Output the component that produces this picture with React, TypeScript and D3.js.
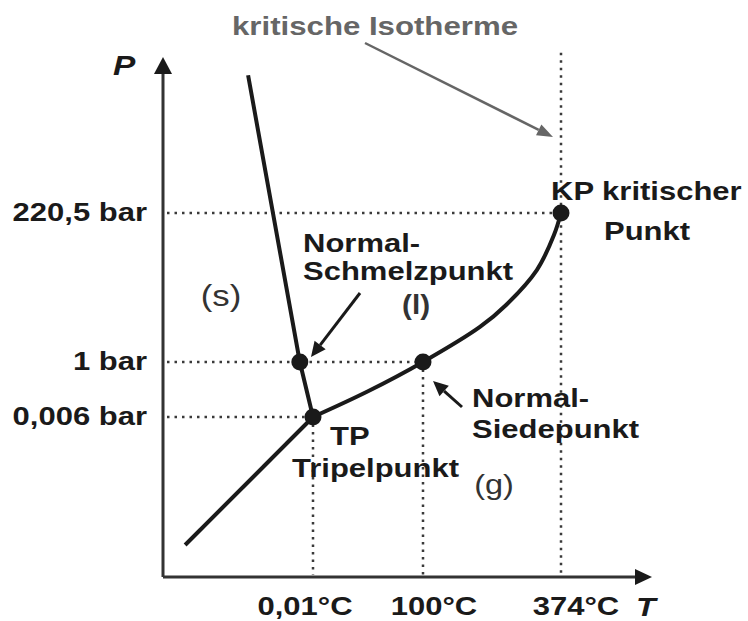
import React from "react";
import * as d3 from "d3";

// schematic phase diagram of water (axes are not to scale)
const tempTicks = [0.01, 100, 374];
const tempLabels = ["0,01°C", "100°C", "374°C"];
const tempLabelShift = [-8, 11, 15];
const pressTicks = [0.006, 1, 220.5];
const pressLabels = ["0,006 bar", "1 bar", "220,5 bar"];
const pressGuideEnd = [0.01, 100, 374]; // temperature where each dotted pressure line stops

const sublimation = [
  { t: -34.1, p: 0.0012 },
  { t: 0.01, p: 0.006 },
];
const melting = [
  { t: 0.01, p: 0.006 },
  { t: -3.5, p: 1 },
  { t: -17.3, p: 379 },
];
const vaporization = [
  { t: 0.01, p: 0.006 },
  { t: 50, p: 0.47 },
  { t: 100, p: 1 },
  { t: 213, p: 52.6 },
  { t: 265, p: 85 },
  { t: 326, p: 136.5 },
  { t: 360, p: 188 },
  { t: 374, p: 220.5 },
];
const specialPoints = [
  { t: 0.01, p: 0.006 },
  { t: -3.5, p: 1 },
  { t: 100, p: 1 },
  { t: 374, p: 220.5 },
];

const W = 748;
const H = 621;
const SX = 1.24; // the lettering in the original is drawn wide
const FONT = "'Liberation Sans', Arial, Helvetica, sans-serif";
const INK = "#1a1a1a";

const x = d3.scaleLinear().domain([-40, 0.01, 100, 374, 500]).range([163, 313, 423, 561, 652]);
const y = d3.scaleLinear().domain([0, 0.006, 1, 220.5, 400]).range([577, 417, 362, 213, 57]);

function Label({ x, y, children, anchor = "start", size = 25, weight = "bold", fill = INK, italic = false, sx = SX }: any) {
  return (
    <text
      transform={`translate(${x},${y}) scale(${sx},1)`}
      textAnchor={anchor}
      fontFamily={FONT}
      fontSize={size}
      fontWeight={weight}
      fontStyle={italic ? "italic" : "normal"}
      fill={fill}
    >
      {children}
    </text>
  );
}

function Arrow({ x1, y1, x2, y2, color = INK, width = 3, head = 15, headW = 7 }: any) {
  const a = Math.atan2(y2 - y1, x2 - x1);
  const bx = x2 - head * Math.cos(a);
  const by = y2 - head * Math.sin(a);
  const px = -Math.sin(a) * headW;
  const py = Math.cos(a) * headW;
  return (
    <g>
      <line x1={x1} y1={y1} x2={bx} y2={by} stroke={color} strokeWidth={width} />
      <polygon points={`${x2},${y2} ${bx + px},${by + py} ${bx - px},${by - py}`} fill={color} />
    </g>
  );
}

export default function App() {
  const line = d3.line<any>().x((d) => x(d.t)).y((d) => y(d.p));
  const smooth = d3.line<any>().x((d) => x(d.t)).y((d) => y(d.p)).curve(d3.curveCatmullRom.alpha(0.5));
  const x0 = x(-40);
  const y0 = y(0);
  const dotted = { stroke: "#3a3a3a", strokeWidth: 2.5, strokeDasharray: "2.5 5", fill: "none" };

  return (
    <svg width={W} height={H} style={{ position: "absolute", left: 0, top: 0, background: "#fff" }}>
      {/* guide lines */}
      {pressTicks.map((p, i) => (
        <line key={"h" + i} x1={x0 + 4} x2={x(pressGuideEnd[i])} y1={y(p)} y2={y(p)} style={dotted} />
      ))}
      {tempTicks.map((t, i) => (
        <line key={"v" + i} x1={x(t)} x2={x(t)} y1={i === 2 ? y(405) : y(pressTicks[i])} y2={y0 - 2} style={dotted} />
      ))}

      {/* axes */}
      <line x1={x0} y1={y0} x2={x0} y2={70} stroke="#333" strokeWidth={3} />
      <polygon points={`${x0},${57} ${x0 - 9},${74} ${x0 + 9},${74}`} fill={INK} />
      <line x1={x0} y1={y0} x2={638} y2={y0} stroke="#333" strokeWidth={3} />
      <polygon points={`${652},${y0} ${635},${y0 - 8} ${635},${y0 + 8}`} fill={INK} />

      {/* phase boundaries */}
      <path d={line(sublimation) || ""} stroke={INK} strokeWidth={4} fill="none" />
      <path d={line(melting) || ""} stroke={INK} strokeWidth={4} fill="none" />
      <path d={smooth(vaporization) || ""} stroke={INK} strokeWidth={4} fill="none" />
      {specialPoints.map((d, i) => (
        <circle key={"c" + i} cx={x(d.t)} cy={y(d.p)} r={8.5} fill={INK} />
      ))}

      {/* axis labels */}
      <Label x={113} y={75} size={27} italic>P</Label>
      <Label x={636} y={616} size={26} italic>T</Label>
      {pressTicks.map((p, i) => (
        <Label key={"pl" + i} x={147} y={y(p) + 8} anchor="end">{pressLabels[i]}</Label>
      ))}
      {tempTicks.map((t, i) => (
        <Label key={"tl" + i} x={x(t) + tempLabelShift[i]} y={615} anchor="middle">{tempLabels[i]}</Label>
      ))}

      {/* annotations */}
      <Label x={232} y={35} fill="#666" size={26} sx={1.2}>kritische Isotherme</Label>
      <Arrow x1={365} y1={43} x2={553} y2={137} color="#666" width={2.5} head={16} headW={6} />

      <Label x={551} y={200}>KP kritischer</Label>
      <Label x={604} y={240}>Punkt</Label>

      <Label x={303} y={252}>Normal-</Label>
      <Label x={303} y={280}>Schmelzpunkt</Label>
      <Arrow x1={360} y1={293} x2={311} y2={357} />

      <Label x={472} y={407}>Normal-</Label>
      <Label x={472} y={438}>Siedepunkt</Label>
      <Arrow x1={462} y1={407} x2={433} y2={381} />

      <Label x={330} y={445}>TP</Label>
      <Label x={292} y={477}>Tripelpunkt</Label>

      <Label x={221} y={306} anchor="middle" size={29} weight="normal" fill="#333" sx={1.2}>(s)</Label>
      <Label x={416} y={314} anchor="middle" size={27} weight="bold" fill="#333" sx={1.1}>(l)</Label>
      <Label x={494} y={494} anchor="middle" size={27} weight="normal" fill="#333" sx={1.2}>(g)</Label>
    </svg>
  );
}
